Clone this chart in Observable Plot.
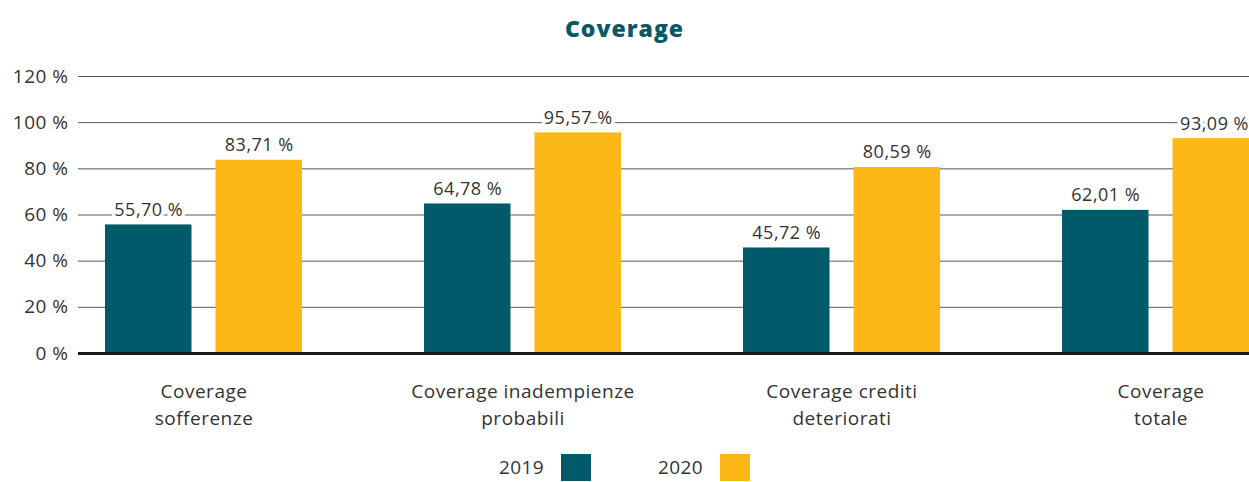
<!DOCTYPE html>
<html>
<head>
<meta charset="utf-8">
<script src="https://cdn.jsdelivr.net/npm/d3@7"></script>
<script src="https://cdn.jsdelivr.net/npm/@observablehq/plot@0.6"></script>
<style>
  html, body { margin: 0; padding: 0; background: #fff; }
  body { width: 1249px; height: 482px; overflow: hidden; font-family: "Open Sans", Lato, sans-serif; color: #333; }
  #title { height: 55px; line-height: 56px; text-align: center; font-size: 23px; font-weight: 800; color: #0b5766; letter-spacing: 1px; }
  #chart svg { display: block; }
  #legend { display: flex; justify-content: center; align-items: center; gap: 67px; height: 42px; margin-top: 6px; font-size: 19px; color: #333; letter-spacing: 0.4px; }
  .item { display: flex; align-items: center; gap: 17px; }
  .sw { width: 30px; height: 27px; display: inline-block; }
</style>
</head>
<body>
<div id="title">Coverage</div>
<div id="chart"></div>
<div id="legend"></div>
<script>
const categories = ["Coverage sofferenze", "Coverage inadempienze probabili", "Coverage crediti deteriorati", "Coverage totale"];
const tickLabels = ["Coverage\nsofferenze", "Coverage inadempienze\nprobabili", "Coverage crediti\ndeteriorati", "Coverage\ntotale"];
const years = ["2019", "2020"];
const values2019 = [55.70, 64.78, 45.72, 62.01];
const values2020 = [83.71, 95.57, 80.59, 93.09];
const yTicks = [0, 20, 40, 60, 80, 100, 120];
const colors = ["#005a6a", "#fbb817"];

const data = [];
categories.forEach((c, i) => {
  data.push({cat: c, year: "2019", value: values2019[i]});
  data.push({cat: c, year: "2020", value: values2020[i]});
});
const d19 = data.filter(d => d.year === "2019");
const d20 = data.filter(d => d.year === "2020");
const lastCat = categories[categories.length - 1];
const d20a = d20.filter(d => d.cat !== lastCat);
const d20b = d20.filter(d => d.cat === lastCat);
const fmt = v => v.toFixed(2).replace(".", ",") + " %";
const labelOf = Object.fromEntries(categories.map((c, i) => [c, tickLabels[i]]));
const labelStyle = {x: "cat", y: "value", text: d => fmt(d.value), dy: -9, lineAnchor: "bottom", fontSize: 18, fill: "#333", stroke: "white", strokeWidth: 7};

const chart = Plot.plot({
  width: 1249,
  height: 385,
  marginTop: 21,
  marginBottom: 87,
  marginLeft: 78,
  marginRight: 0,
  style: {fontFamily: "'Open Sans', Lato, sans-serif", color: "#333", background: "#fff", letterSpacing: "0.5px"},
  x: {type: "band", domain: categories, range: [43.5, 1319.5], padding: 0},
  y: {domain: [0, 120]},
  color: {domain: years, range: colors},
  marks: [
    Plot.gridY(yTicks, {stroke: "#5a5a5a", strokeOpacity: 1, strokeWidth: 1}),
    Plot.barY(d19, {x: "cat", y: "value", fill: "year", insetLeft: 61, insetRight: 171.5}),
    Plot.barY(d20, {x: "cat", y: "value", fill: "year", insetLeft: 171.5, insetRight: 61}),
    Plot.ruleY([0], {stroke: "#1a1a1a", strokeWidth: 3}),
    Plot.text(d19, {...labelStyle, dx: -55.25}),
    Plot.text(d20a, {...labelStyle, dx: 55.25}),
    Plot.text(d20b, {...labelStyle, dx: 88, textAnchor: "end"}),
    Plot.axisY(yTicks, {tickSize: 0, tickPadding: 10, fontSize: 19, tickFormat: d => d + " %", label: null, fill: "#333"}),
    Plot.axisX({tickSize: 0, tickPadding: 26, fontSize: 19, lineHeight: 1.4, tickFormat: d => labelOf[d], label: null, fill: "#333"})
  ]
});
document.getElementById("chart").appendChild(chart);

const legend = document.getElementById("legend");
years.forEach((y, i) => {
  const item = document.createElement("div");
  item.className = "item";
  const t = document.createElement("span");
  t.textContent = y;
  const s = document.createElement("span");
  s.className = "sw";
  s.style.background = colors[i];
  item.appendChild(t);
  item.appendChild(s);
  legend.appendChild(item);
});
</script>
</body>
</html>
